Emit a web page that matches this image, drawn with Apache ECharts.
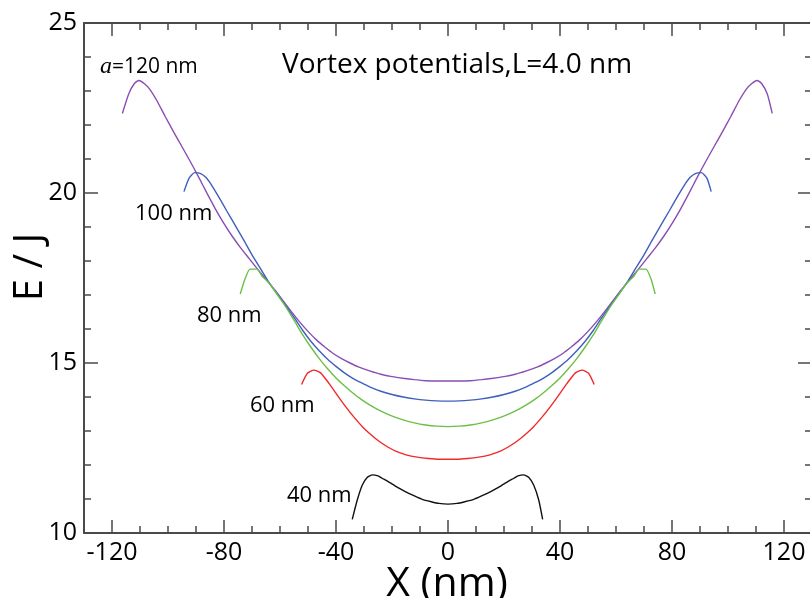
<!DOCTYPE html>
<html>
<head>
<meta charset="utf-8">
<script src="https://cdn.jsdelivr.net/npm/echarts@6/dist/echarts.min.js"></script>
<style>
  html, body { margin: 0; padding: 0; background: #fff; }
  #chart { width: 810px; height: 598px; }
</style>
</head>
<body>
<div id="chart"></div>
<script>
// Vortex potential curves E(X) for several spacings a, L = 4.0 nm
const x120 = [-116.3,-114,-112,-110.4,-108.5,-106.5,-104,-101,-98,-95,-92,-89,-86,-83,-80,-77,-74,-71,-68,-65,-62,-59,-56,-53,-50,-47,-44,-41,-38,-35,-32,-28,-24,-20,-16,-12,-8,-4,0,
              4,8,12,16,20,24,28,32,35,38,41,44,47,50,53,56,59,62,65,68,71,74,77,80,83,86,89,92,95,98,101,104,106.5,108.5,110.4,112,114,115.8];
const e120 = [22.34,22.92,23.22,23.31,23.22,23.05,22.72,22.25,21.8,21.36,20.92,20.46,19.98,19.52,19.1,18.72,18.38,18.07,17.76,17.46,17.16,16.84,16.52,16.21,15.93,15.68,15.47,15.28,15.13,15.0,14.885,14.77,14.67,14.6,14.55,14.51,14.48,14.47,14.47,
              14.47,14.48,14.51,14.55,14.6,14.67,14.77,14.885,15.0,15.13,15.28,15.47,15.68,15.93,16.21,16.52,16.84,17.16,17.46,17.76,18.07,18.38,18.72,19.1,19.52,19.98,20.46,20.92,21.36,21.8,22.25,22.72,23.05,23.22,23.31,23.22,22.92,22.34];

const x100 = [-94.3,-92.5,-90.5,-88.5,-86.5,-84.5,-82,-79,-76,-73,-70,-67,-64,-61,-58,-55,-52,-49,-46,-43,-40,-37,-34,-31,-28,-24,-20,-16,-12,-8,-4,0,
              4,8,12,16,20,24,28,31,34,37,40,43,46,49,52,55,58,61,64,67,70,73,76,79,82,84.5,86.5,88.5,90.5,92.5,94];
const e100 = [20.04,20.43,20.6,20.58,20.46,20.24,19.9,19.47,19.05,18.62,18.18,17.78,17.38,17.03,16.69,16.34,15.97,15.64,15.36,15.11,14.9,14.71,14.55,14.42,14.3,14.17,14.075,14.0,13.946,13.909,13.887,13.88,
              13.887,13.909,13.946,14.0,14.075,14.17,14.3,14.42,14.55,14.71,14.9,15.11,15.36,15.64,15.97,16.34,16.69,17.03,17.38,17.78,18.18,18.62,19.05,19.47,19.9,20.24,20.46,20.58,20.6,20.43,20.04];

const x80 = [-74.2,-72.5,-70.7,-68.2,-66.3,-64,-61,-58,-55,-52,-49,-46,-43,-40,-37,-34,-31,-28,-25,-22,-19,-16,-12,-8,-4,0,
             4,8,12,16,19,22,25,28,31,34,37,40,43,46,49,52,55,58,61,64,66.3,68.2,70.7,72.5,74];
const e80 = [17.03,17.47,17.76,17.76,17.54,17.36,17.02,16.66,16.26,15.84,15.47,15.13,14.83,14.56,14.33,14.12,13.93,13.77,13.63,13.51,13.41,13.326,13.239,13.178,13.142,13.13,
             13.142,13.178,13.239,13.326,13.41,13.51,13.63,13.77,13.93,14.12,14.33,14.56,14.83,15.13,15.47,15.84,16.26,16.66,17.02,17.36,17.54,17.76,17.76,17.47,17.03];

const x60 = [-52.3,-50.2,-47.9,-45.5,-42.5,-39.5,-36.5,-33.5,-30.5,-27.5,-24.5,-21.5,-18.5,-15,-11,-7,-3,0,
             3,7,11,15,18.5,21.5,24.5,27.5,30.5,33.5,36.5,39.5,42.5,45.5,47.9,50.2,52.2];
const e60 = [14.37,14.70,14.79,14.71,14.40,14.05,13.71,13.4,13.12,12.89,12.69,12.53,12.4,12.3,12.23,12.19,12.17,12.17,
             12.17,12.19,12.23,12.3,12.4,12.53,12.69,12.89,13.12,13.4,13.71,14.05,14.40,14.71,14.79,14.70,14.37];

const x40 = [-34.2,-32.4,-30.6,-28.8,-27,-25,-23.5,-21.5,-19.9,-17.5,-15.1,-12,-9.2,-6,-3.2,0,
             3.2,6,9.2,12,15.1,17.5,19.9,21.5,23.5,25,27,28.8,30.6,32.4,33.8];
const e40 = [10.40,10.97,11.41,11.64,11.71,11.68,11.61,11.52,11.44,11.32,11.21,11.09,10.99,10.92,10.87,10.85,
             10.87,10.92,10.99,11.09,11.21,11.32,11.44,11.52,11.61,11.68,11.71,11.64,11.41,10.97,10.40];

const xMajorTicks = [-120, -80, -40, 0, 40, 80, 120];
const xMinorTicks = [-130,-110,-100,-90,-70,-60,-50,-30,-20,-10,10,20,30,50,60,70,90,100,110,130];

const seriesDefs = [
  { name: 'a=120 nm', xs: x120, ys: e120, color: '#8a4db3' },
  { name: '100 nm',   xs: x100, ys: e100, color: '#3f5fbf' },
  { name: '80 nm',    xs: x80,  ys: e80,  color: '#6cbf45' },
  { name: '60 nm',    xs: x60,  ys: e60,  color: '#f02a2a' },
  { name: '40 nm',    xs: x40,  ys: e40,  color: '#111111' }
];

const FONT = '"Open Sans", "Noto Sans", sans-serif';
const AXIS_COLOR = '#4a4a4a';

function xAxisDef(position, ticks, len, withLabels, showLine) {
  return {
    type: 'value', position: position, min: -130, max: 130,
    axisLine: { show: showLine, onZero: false, lineStyle: { color: AXIS_COLOR, width: 2 } },
    axisTick: { show: true, inside: true, length: len, customValues: ticks, lineStyle: { color: AXIS_COLOR, width: 1.5 } },
    axisLabel: withLabels
      ? { show: true, customValues: ticks, margin: 7, color: '#000', fontFamily: FONT, fontSize: 25 }
      : { show: false, customValues: ticks },
    splitLine: { show: false }
  };
}

function yAxisDef(position, withLabels, showLine) {
  return {
    type: 'value', position: position, min: 10, max: 25, interval: 5,
    axisLine: { show: showLine, onZero: false, lineStyle: { color: AXIS_COLOR, width: 2 } },
    axisTick: { show: true, inside: true, length: 14, lineStyle: { color: AXIS_COLOR, width: 1.5 } },
    minorTick: { show: true, splitNumber: 5, length: 7, lineStyle: { color: AXIS_COLOR, width: 1.5 } },
    axisLabel: { show: withLabels, margin: 7, color: '#000', fontFamily: FONT, fontSize: 25 },
    splitLine: { show: false }
  };
}

const xAxes = [
  xAxisDef('bottom', xMajorTicks, 13, true, true),
  xAxisDef('bottom', xMinorTicks, 7, false, false),
  xAxisDef('top', xMajorTicks, 13, false, true),
  xAxisDef('top', xMinorTicks, 7, false, false)
];

const yAxes = [
  yAxisDef('left', true, true),
  yAxisDef('right', false, false)
];

const series = seriesDefs.map(function (d) {
  return {
    name: d.name, type: 'line', xAxisIndex: 0, yAxisIndex: 0,
    data: d.xs.map(function (x, i) { return [x, d.ys[i]]; }),
    showSymbol: false, smooth: 0.2, clip: true,
    lineStyle: { color: d.color, width: 1.4 },
    itemStyle: { color: d.color },
    emphasis: { disabled: true }
  };
});

function label(text, x, y, size, opts) {
  opts = opts || {};
  const st = { text: text, x: 0, y: 0, fill: '#000', font: size + 'px ' + FONT,
               align: opts.align || 'left', verticalAlign: 'middle',
               textAlign: opts.align || 'left', textVerticalAlign: 'middle' };
  if (opts.rich) st.rich = opts.rich;
  return { type: 'text', x: x, y: y, rotation: opts.rotation || 0, style: st, z: 10 };
}

const chart = echarts.init(document.getElementById('chart'), null, { renderer: 'canvas' });
chart.setOption({
  animation: false,
  backgroundColor: '#fff',
  grid: { left: 84, top: 23, width: 728, height: 510, containLabel: false, outerBoundsMode: 'none' },
  xAxis: xAxes,
  yAxis: yAxes,
  series: series,
  graphic: [
    // axis titles
    label('X (nm)', 447, 584, 41, { align: 'center' }),
    label('E / J', 31, 267, 40, { align: 'center', rotation: Math.PI / 2 }),
    // plot title and curve labels
    label('Vortex potentials,L=4.0 nm', 282, 65, 28),
    label('{i|a}=120 nm', 100, 67, 21, {
      rich: { i: { fontFamily: '"Liberation Serif", serif', fontStyle: 'italic', fontSize: 24, fill: '#000' } }
    }),
    label('100 nm', 135, 214, 22),
    label('80 nm', 197, 316, 22),
    label('60 nm', 250, 406, 22),
    label('40 nm', 287, 496, 22)
  ]
});
</script>
</body>
</html>
